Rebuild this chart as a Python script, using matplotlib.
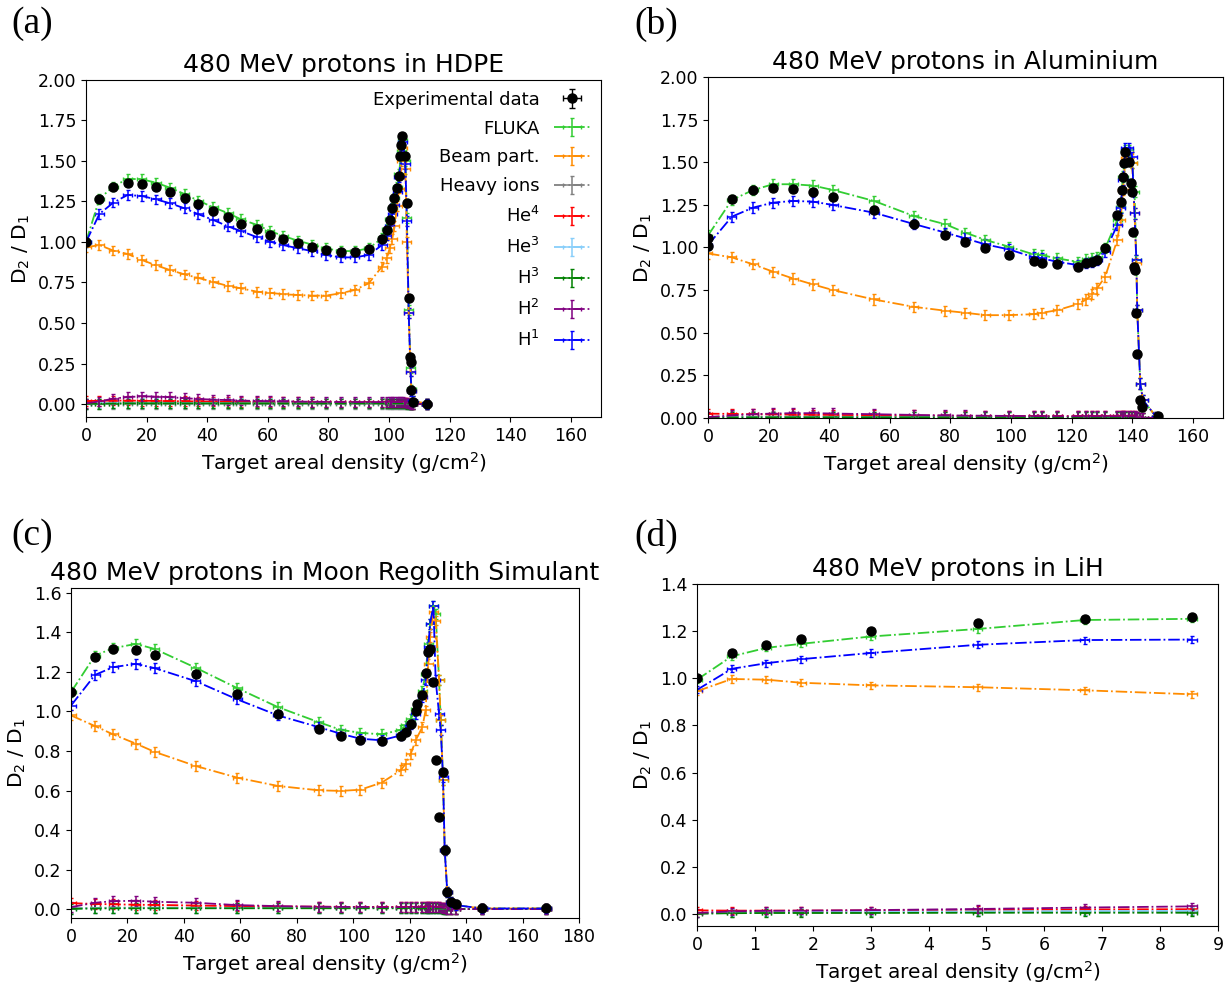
import matplotlib
matplotlib.use("Agg")
import matplotlib.pyplot as plt

labels = ["FLUKA", "Beam part.", "Heavy ions", "He$^4$", "He$^3$", "H$^3$", "H$^2$", "H$^1$"]
colors = ["limegreen", "darkorange", "grey", "red", "lightskyblue", "green", "purple", "blue"]

# ---------------- (a) HDPE ----------------
exp_x_a = [0, 4.4, 9.0, 13.7, 18.4, 23.1, 27.7, 32.5, 37.1, 42.0, 47.0, 51.1, 56.5, 60.7, 65.1,
           69.9, 74.6, 79.1, 84.0, 88.7, 93.3, 97.7, 99.3, 100.2, 101.1, 101.8, 102.7, 103.3,
           103.6, 104.1, 104.4, 105.4, 105.9, 106.5, 106.9, 107.1, 107.4, 107.9, 112.4]
exp_y_a = [1.0, 1.263, 1.337, 1.366, 1.360, 1.342, 1.311, 1.274, 1.232, 1.191, 1.152, 1.113,
           1.080, 1.043, 1.021, 0.994, 0.969, 0.949, 0.938, 0.938, 0.955, 1.016, 1.074, 1.138,
           1.208, 1.270, 1.331, 1.407, 1.529, 1.599, 1.655, 1.531, 1.239, 0.656, 0.292, 0.261,
           0.086, 0.014, 0.002]
sim_x_a = [0, 4.4, 9.0, 13.7, 18.4, 23.1, 27.7, 32.5, 37.1, 42.0, 47.0, 51.1, 56.5, 60.7, 65.1,
           69.9, 74.6, 79.1, 84.0, 88.7, 93.3, 97.7, 99.3, 100.2, 101.1, 101.8, 102.7, 103.3,
           104.1, 104.6, 105.4, 105.9, 106.5, 107.1, 107.4, 107.9, 112.4]
fluka_a = [1.0, 1.267, 1.342, 1.390, 1.387, 1.366, 1.335, 1.296, 1.255, 1.214, 1.177, 1.140,
           1.105, 1.068, 1.037, 1.008, 0.984, 0.961, 0.944, 0.944, 0.961, 1.023, 1.08, 1.14,
           1.21, 1.27, 1.34, 1.42, 1.56, 1.63, 1.50, 1.15, 0.58, 0.22, 0.09, 0.02, 0.002]
beam_a = [0.967, 0.981, 0.947, 0.926, 0.889, 0.856, 0.827, 0.800, 0.778, 0.753, 0.728, 0.714,
          0.693, 0.687, 0.677, 0.673, 0.669, 0.669, 0.683, 0.704, 0.745, 0.848, 0.90, 0.96,
          1.02, 1.10, 1.22, 1.33, 1.50, 1.58, 1.45, 1.00, 0.56, 0.20, 0.08, 0.02, 0.002]
heavy_a = [0.001, 0.002, 0.002, 0.002, 0.002, 0.002, 0.002, 0.002, 0.002, 0.002, 0.002, 0.002,
           0.002, 0.002, 0.002, 0.002, 0.002, 0.002, 0.002, 0.002, 0.002, 0.002, 0.002, 0.002,
           0.002, 0.002, 0.002, 0.002, 0.002, 0.002, 0.002, 0.001, 0.001, 0.0, 0.0, 0.0, 0.0]
he4_a = [0.018, 0.020, 0.021, 0.021, 0.020, 0.019, 0.018, 0.017, 0.016, 0.015, 0.014, 0.013,
         0.013, 0.012, 0.012, 0.011, 0.011, 0.010, 0.010, 0.010, 0.010, 0.010, 0.010, 0.010,
         0.010, 0.010, 0.010, 0.010, 0.010, 0.010, 0.009, 0.007, 0.004, 0.002, 0.001, 0.0, 0.0]
he3_a = [0.002, 0.004, 0.005, 0.005, 0.005, 0.005, 0.005, 0.005, 0.005, 0.005, 0.005, 0.005,
         0.005, 0.005, 0.005, 0.005, 0.005, 0.005, 0.005, 0.005, 0.005, 0.005, 0.005, 0.005,
         0.005, 0.005, 0.005, 0.005, 0.005, 0.005, 0.004, 0.003, 0.002, 0.001, 0.0, 0.0, 0.0]
h3_a = [0.001, 0.002, 0.003, 0.004, 0.004, 0.004, 0.004, 0.004, 0.004, 0.004, 0.004, 0.004,
        0.004, 0.004, 0.004, 0.004, 0.004, 0.004, 0.004, 0.004, 0.004, 0.004, 0.004, 0.004,
        0.004, 0.004, 0.004, 0.004, 0.004, 0.004, 0.003, 0.002, 0.001, 0.0, 0.0, 0.0, 0.0]
h2_a = [0.004, 0.016, 0.033, 0.043, 0.047, 0.046, 0.042, 0.036, 0.031, 0.027, 0.024, 0.021,
        0.019, 0.017, 0.016, 0.015, 0.014, 0.013, 0.012, 0.012, 0.012, 0.012, 0.012, 0.012,
        0.012, 0.012, 0.012, 0.012, 0.012, 0.012, 0.010, 0.007, 0.004, 0.002, 0.001, 0.0, 0.0]
h1_a = [1.0, 1.173, 1.243, 1.290, 1.284, 1.263, 1.239, 1.208, 1.171, 1.136, 1.095, 1.068,
        1.029, 1.002, 0.981, 0.961, 0.944, 0.920, 0.905, 0.905, 0.920, 0.981, 1.04, 1.10,
        1.17, 1.23, 1.31, 1.40, 1.54, 1.62, 1.48, 1.13, 0.56, 0.20, 0.08, 0.02, 0.002]

# ---------------- (b) Aluminium ----------------
exp_x_b = [0, 0, 7.9, 14.9, 21.5, 28.1, 34.7, 41.3, 54.8, 67.9, 78.4, 85.0, 91.6, 99.3, 107.6,
           110.2, 115.3, 122.1, 124.9, 126.8, 128.4, 131.1, 135.1, 136.2, 136.6, 137.0, 137.3,
           137.8, 138.9, 139.7, 140.0, 140.3, 140.6, 140.8, 141.2, 141.6, 142.7, 143.2, 148.5]
exp_y_b = [1.057, 1.01, 1.285, 1.335, 1.349, 1.343, 1.326, 1.294, 1.220, 1.136, 1.073, 1.034,
           0.995, 0.955, 0.922, 0.911, 0.901, 0.887, 0.907, 0.912, 0.926, 0.995, 1.190, 1.269,
           1.337, 1.416, 1.494, 1.563, 1.504, 1.380, 1.328, 1.089, 0.887, 0.867, 0.613, 0.378,
           0.104, 0.065, 0.012]
sim_x_b = [0, 7.9, 14.9, 21.5, 28.1, 34.7, 41.3, 54.8, 67.9, 78.4, 85.0, 91.6, 99.3, 107.6,
           110.2, 115.3, 122.1, 124.9, 126.8, 128.4, 131.1, 135.1, 136.2, 137.0, 137.8, 138.9,
           140.0, 140.8, 141.4, 141.7, 142.7, 143.6, 148.0]
fluka_b = [1.07, 1.279, 1.337, 1.371, 1.371, 1.363, 1.337, 1.273, 1.185, 1.136, 1.087, 1.044,
           1.005, 0.959, 0.955, 0.936, 0.916, 0.930, 0.940, 0.946, 0.995, 1.161, 1.239, 1.416,
           1.572, 1.572, 1.494, 1.328, 0.926, 0.632, 0.202, 0.104, 0.006]
beam_b = [0.965, 0.942, 0.901, 0.858, 0.818, 0.783, 0.750, 0.695, 0.652, 0.629, 0.617, 0.603,
          0.603, 0.609, 0.617, 0.632, 0.668, 0.695, 0.726, 0.760, 0.828, 1.044, 1.161, 1.337,
          1.523, 1.553, 1.494, 1.200, 0.907, 0.632, 0.202, 0.104, 0.006]
heavy_b = [0.006, 0.008, 0.008, 0.008, 0.008, 0.008, 0.008, 0.007, 0.007, 0.007, 0.007, 0.007,
           0.007, 0.007, 0.007, 0.007, 0.007, 0.007, 0.007, 0.007, 0.007, 0.007, 0.007, 0.007,
           0.007, 0.007, 0.006, 0.005, 0.004, 0.003, 0.002, 0.001, 0.0]
he4_b = [0.025, 0.024, 0.022, 0.021, 0.020, 0.019, 0.018, 0.016, 0.014, 0.013, 0.012, 0.012,
         0.011, 0.011, 0.011, 0.010, 0.010, 0.010, 0.010, 0.010, 0.010, 0.010, 0.010, 0.010,
         0.010, 0.010, 0.009, 0.008, 0.006, 0.004, 0.002, 0.001, 0.0]
he3_b = [0.002, 0.004, 0.005, 0.005, 0.005, 0.005, 0.005, 0.005, 0.005, 0.005, 0.005, 0.005,
         0.005, 0.005, 0.005, 0.005, 0.005, 0.005, 0.005, 0.005, 0.005, 0.005, 0.005, 0.005,
         0.005, 0.005, 0.004, 0.004, 0.003, 0.002, 0.001, 0.0, 0.0]
h3_b = [0.001, 0.003, 0.004, 0.004, 0.004, 0.004, 0.004, 0.004, 0.004, 0.004, 0.004, 0.004,
        0.004, 0.004, 0.004, 0.004, 0.004, 0.004, 0.004, 0.004, 0.004, 0.004, 0.004, 0.004,
        0.004, 0.004, 0.003, 0.003, 0.002, 0.001, 0.001, 0.0, 0.0]
h2_b = [0.005, 0.015, 0.022, 0.026, 0.028, 0.028, 0.026, 0.022, 0.018, 0.015, 0.014, 0.013,
        0.012, 0.011, 0.011, 0.010, 0.010, 0.010, 0.010, 0.010, 0.010, 0.010, 0.010, 0.010,
        0.010, 0.010, 0.009, 0.008, 0.006, 0.004, 0.002, 0.001, 0.0]
h1_b = [1.014, 1.181, 1.234, 1.263, 1.273, 1.269, 1.249, 1.204, 1.138, 1.087, 1.053, 1.018,
        0.989, 0.942, 0.936, 0.916, 0.897, 0.910, 0.916, 0.926, 0.975, 1.132, 1.230, 1.396,
        1.582, 1.582, 1.533, 1.200, 0.926, 0.632, 0.202, 0.104, 0.006]

# ---------------- (c) Moon Regolith Simulant ----------------
exp_x_c = [0, 8.5, 14.9, 23.0, 29.7, 44.2, 58.9, 73.3, 87.7, 95.6, 102.5, 110.1, 116.8, 118.6,
           120.4, 122.1, 122.7, 124.5, 125.6, 126.6, 127.2, 128.4, 129.2, 130.4, 131.8, 132.4,
           133.3, 134.5, 136.3, 145.7, 168.3]
exp_y_c = [1.098, 1.278, 1.316, 1.313, 1.285, 1.190, 1.086, 0.988, 0.909, 0.874, 0.857, 0.848,
           0.874, 0.896, 0.938, 1.002, 1.039, 1.084, 1.194, 1.300, 1.316, 1.148, 0.753, 0.466,
           0.694, 0.298, 0.088, 0.037, 0.025, 0.003, 0.003]
sim_x_c = [0, 8.5, 14.9, 23.0, 29.7, 44.2, 58.9, 73.3, 87.7, 95.6, 102.5, 110.1, 116.8, 118.6,
           120.4, 122.1, 124.5, 125.6, 126.6, 127.2, 128.4, 129.2, 130.4, 131.0, 131.8, 132.4,
           133.3, 134.5, 136.3, 145.7, 168.3]
fluka_c = [1.098, 1.283, 1.320, 1.342, 1.316, 1.221, 1.118, 1.022, 0.946, 0.907, 0.892, 0.884,
           0.907, 0.929, 0.963, 1.013, 1.106, 1.190, 1.342, 1.443, 1.535, 1.493, 1.157, 0.955,
           0.652, 0.298, 0.088, 0.037, 0.020, 0.003, 0.003]
beam_c = [0.980, 0.926, 0.884, 0.837, 0.795, 0.724, 0.665, 0.623, 0.601, 0.598, 0.604, 0.640,
          0.702, 0.736, 0.786, 0.854, 0.921, 1.005, 1.241, 1.375, 1.502, 1.460, 1.157, 0.955,
          0.652, 0.298, 0.088, 0.037, 0.020, 0.003, 0.003]
heavy_c = [0.004, 0.006, 0.007, 0.007, 0.007, 0.007, 0.006, 0.006, 0.006, 0.006, 0.006, 0.006,
           0.006, 0.006, 0.006, 0.006, 0.006, 0.006, 0.006, 0.006, 0.006, 0.006, 0.005, 0.004,
           0.003, 0.002, 0.001, 0.0, 0.0, 0.0, 0.0]
he4_c = [0.030, 0.026, 0.024, 0.022, 0.021, 0.018, 0.015, 0.013, 0.012, 0.011, 0.011, 0.011,
         0.011, 0.011, 0.011, 0.011, 0.011, 0.011, 0.011, 0.011, 0.011, 0.010, 0.009, 0.008,
         0.006, 0.004, 0.002, 0.001, 0.0, 0.0, 0.0]
he3_c = [0.002, 0.005, 0.006, 0.006, 0.006, 0.006, 0.005, 0.005, 0.005, 0.005, 0.005, 0.005,
         0.005, 0.005, 0.005, 0.005, 0.005, 0.005, 0.005, 0.005, 0.005, 0.005, 0.004, 0.004,
         0.003, 0.002, 0.001, 0.0, 0.0, 0.0, 0.0]
h3_c = [0.001, 0.003, 0.004, 0.004, 0.004, 0.004, 0.004, 0.004, 0.004, 0.004, 0.004, 0.004,
        0.004, 0.004, 0.004, 0.004, 0.004, 0.004, 0.004, 0.004, 0.004, 0.004, 0.003, 0.003,
        0.002, 0.001, 0.001, 0.0, 0.0, 0.0, 0.0]
h2_c = [0.010, 0.032, 0.040, 0.042, 0.037, 0.032, 0.020, 0.015, 0.012, 0.011, 0.011, 0.010,
        0.010, 0.010, 0.010, 0.010, 0.010, 0.010, 0.010, 0.010, 0.010, 0.010, 0.009, 0.008,
        0.006, 0.004, 0.002, 0.001, 0.0, 0.0, 0.0]
h1_c = [1.030, 1.185, 1.224, 1.241, 1.219, 1.153, 1.061, 0.980, 0.921, 0.887, 0.862, 0.854,
        0.879, 0.904, 0.938, 0.988, 1.072, 1.157, 1.325, 1.443, 1.535, 1.157, 0.988, 0.904,
        0.668, 0.298, 0.088, 0.037, 0.020, 0.003, 0.003]

# ---------------- (d) LiH ----------------
exp_x_d = [0, 0.6, 1.2, 1.8, 3.0, 4.85, 6.7, 8.55]
exp_y_d = [1.0, 1.108, 1.140, 1.165, 1.202, 1.236, 1.253, 1.259]
sim_x_d = [0, 0.6, 1.2, 1.8, 3.0, 4.85, 6.7, 8.55]
fluka_d = [0.994, 1.093, 1.129, 1.146, 1.177, 1.209, 1.247, 1.252]
beam_d = [0.945, 0.997, 0.994, 0.981, 0.970, 0.962, 0.949, 0.932]
heavy_d = [0.003, 0.005, 0.006, 0.007, 0.008, 0.009, 0.010, 0.011]
he4_d = [0.016, 0.015, 0.015, 0.015, 0.016, 0.018, 0.020, 0.021]
he3_d = [0.004, 0.008, 0.009, 0.010, 0.011, 0.012, 0.013, 0.014]
h3_d = [0.002, 0.004, 0.005, 0.005, 0.005, 0.006, 0.006, 0.006]
h2_d = [0.005, 0.012, 0.014, 0.015, 0.017, 0.022, 0.028, 0.033]
h1_d = [0.951, 1.040, 1.064, 1.081, 1.107, 1.142, 1.162, 1.164]


def draw_panel(ax, exp_x, exp_y, sim_x, sims, xe, ye, exe, eye, title):
    ax.errorbar(exp_x, exp_y, xerr=exe, yerr=eye, fmt="o", color="black", ms=6.5,
                capsize=2, elinewidth=1, label="Experimental data", zorder=5)
    for lab, col, vals in zip(labels, colors, sims):
        ax.errorbar(sim_x, vals, xerr=xe, yerr=ye, fmt="-.", color=col, lw=1.3,
                    capsize=1.5, elinewidth=1.1, label=lab)
    ax.set_title(title, fontsize=18)
    ax.set_xlabel("Target areal density (g/cm$^2$)", fontsize=14.5)
    ax.set_ylabel("D$_2$ / D$_1$", fontsize=14.5)
    ax.tick_params(labelsize=12.5)


fig = plt.figure(figsize=(12.31, 9.86), dpi=100)

ax1 = fig.add_axes([0.0699, 0.5771, 0.4184, 0.3418])
draw_panel(ax1, exp_x_a, exp_y_a, sim_x_a,
           [fluka_a, beam_a, heavy_a, he4_a, he3_a, h3_a, h2_a, h1_a],
           1.5, 0.03, 0.5, 0.015, "480 MeV protons in HDPE")
ax1.set_xlim(0, 170)
ax1.set_ylim(-0.08, 2.0)
ax1.set_xticks(range(0, 161, 20))
ax1.set_yticks([0, 0.25, 0.5, 0.75, 1.0, 1.25, 1.5, 1.75, 2.0])
ax1.set_yticklabels(["0.00", "0.25", "0.50", "0.75", "1.00", "1.25", "1.50", "1.75", "2.00"])
ax1.legend(loc="upper right", frameon=False, markerfirst=False, fontsize=13,
           labelspacing=0.6, borderaxespad=0.2)

ax2 = fig.add_axes([0.5751, 0.5761, 0.4184, 0.3458])
draw_panel(ax2, exp_x_b, exp_y_b, sim_x_b,
           [fluka_b, beam_b, heavy_b, he4_b, he3_b, h3_b, h2_b, h1_b],
           1.5, 0.03, 0.5, 0.015, "480 MeV protons in Aluminium")
ax2.set_xlim(0, 170)
ax2.set_ylim(0, 2.0)
ax2.set_xticks(range(0, 161, 20))
ax2.set_yticks([0, 0.25, 0.5, 0.75, 1.0, 1.25, 1.5, 1.75, 2.0])
ax2.set_yticklabels(["0.00", "0.25", "0.50", "0.75", "1.00", "1.25", "1.50", "1.75", "2.00"])

ax3 = fig.add_axes([0.0577, 0.0690, 0.4127, 0.3347])
draw_panel(ax3, exp_x_c, exp_y_c, sim_x_c,
           [fluka_c, beam_c, heavy_c, he4_c, he3_c, h3_c, h2_c, h1_c],
           1.6, 0.025, 0.5, 0.012, "480 MeV protons in Moon Regolith Simulant")
ax3.set_xlim(0, 180)
ax3.set_ylim(-0.045, 1.625)
ax3.set_xticks(range(0, 181, 20))
ax3.set_yticks([0, 0.2, 0.4, 0.6, 0.8, 1.0, 1.2, 1.4, 1.6])
ax3.set_yticklabels(["0.0", "0.2", "0.4", "0.6", "0.8", "1.0", "1.2", "1.4", "1.6"])

ax4 = fig.add_axes([0.5662, 0.0609, 0.4232, 0.3469])
draw_panel(ax4, exp_x_d, exp_y_d, sim_x_d,
           [fluka_d, beam_d, heavy_d, he4_d, he3_d, h3_d, h2_d, h1_d],
           0.08, 0.015, 0.05, 0.01, "480 MeV protons in LiH")
ax4.set_xlim(0, 9)
ax4.set_ylim(-0.05, 1.4)
ax4.set_xticks(range(0, 10))
ax4.set_yticks([0, 0.2, 0.4, 0.6, 0.8, 1.0, 1.2, 1.4])
ax4.set_yticklabels(["0.0", "0.2", "0.4", "0.6", "0.8", "1.0", "1.2", "1.4"])

for lab, px, py in [("(a)", 11, 24), ("(b)", 634, 24), ("(c)", 11, 536), ("(d)", 634, 536)]:
    fig.text(px / 1231, 1 - py / 986, lab, fontsize=27, family="Liberation Serif",
             ha="left", va="center")

fig.savefig("out.png", dpi=100)
